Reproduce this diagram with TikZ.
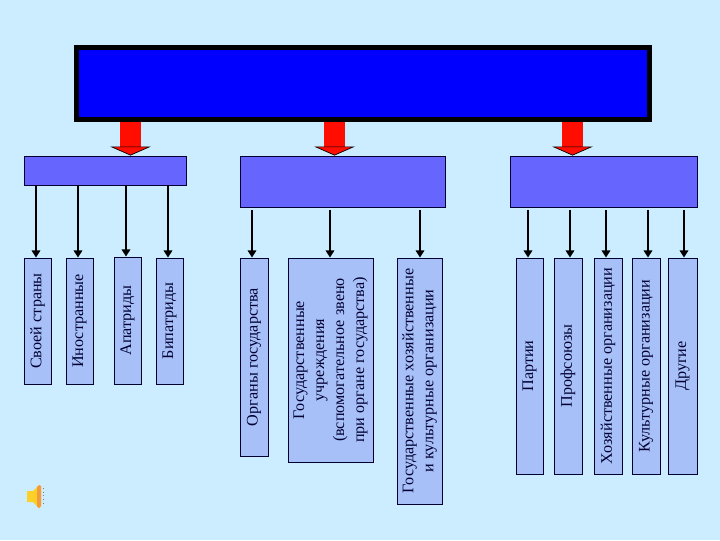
\documentclass[tikz,border=0pt]{standalone}
\usepackage{fontspec}
\setmainfont{Liberation Serif}
\usepackage{xcolor}
\usetikzlibrary{arrows.meta}
\definecolor{slideColor}{HTML}{CCECFF}
\definecolor{titleColor}{HTML}{0000FF}
\definecolor{groupColor}{HTML}{6666FF}
\definecolor{leafColor}{HTML}{A8C0F8}
\definecolor{inkColor}{HTML}{000033}
\definecolor{redColor}{HTML}{FF0D00}
\tikzset{
    groupbox/.style 2 args={draw=inkColor, fill=groupColor, line width=0.7pt, minimum width=#1*0.025cm, minimum height=#2*0.025cm},
    leafbox/.style 2 args={draw=inkColor, fill=leafColor, line width=0.7pt, rotate=90, align=center, text=inkColor, font=\fontsize{11.5}{14.2}\selectfont, inner sep=0pt, minimum width=#1*0.025cm, minimum height=#2*0.025cm},
    redarrow/.style={draw=redColor, line width=21*0.025cm, -{Triangle[color=black, fill=redColor, width=41*0.025cm, length=9*0.025cm, line width=0.5pt]}},
    leafarrow/.style={draw=black, line width=1.6pt, -{Triangle[width=6pt, length=5pt]}},
    gaparrow/.style={leafarrow, shorten <=2.1pt}
}

\begin{document}
\begin{tikzpicture}[x=0.025cm, y=-0.025cm]
    \fill[slideColor] (0,0) rectangle (720,540);
    \useasboundingbox (0,0) rectangle (720,540);
    \node[draw=black, fill=titleColor, line width=3.6pt, minimum width=573*0.025cm, minimum height=71.5*0.025cm] (title) at (363,83.5) {};

    \node[groupbox={162}{29}] (persons) at (105,170.5) {};
    \node[groupbox={205}{51}] (state) at (342.5,181.5) {};
    \node[groupbox={187}{51}] (public) at (603.5,181.5) {};

    \node[leafbox={126}{27}] (own) at (37.5,321) {Своей страны};
    \node[leafbox={126}{27}] (foreign) at (79.5,321) {Иностранные};
    \node[leafbox={127}{27}] (apatrid) at (127.5,320.5) {Апатриды};
    \node[leafbox={126}{27}] (bipatrid) at (169.5,321) {Бипатриды};

    \node[leafbox={198}{28}] (organs) at (254,357) {Органы государства};
    \node[leafbox={204}{85}] (institutions) at (330.5,360) {Государственные\\учреждения\\(вспомогательное звено\\при органе государства)};
    \node[leafbox={246}{45}] (economic) at (419.5,381) {Государственные хозяйственные\\и культурные организации};

    \node[leafbox={216}{27}] (parties) at (529.5,366) {Партии};
    \node[leafbox={216}{28}] (unions) at (568,366) {Профсоюзы};
    \node[leafbox={216}{28}] (business) at (608,366) {Хозяйственные организации};
    \node[leafbox={216}{28}] (culture) at (646,366) {Культурные организации};
    \node[leafbox={216}{29}] (others) at (682.5,366) {Другие};

    \draw[redarrow] (130.5,0 |- title.south) -- (130.5,0 |- persons.north);
    \draw[redarrow] (334.5,0 |- title.south) -- (334.5,0 |- state.north);
    \draw[redarrow] (572.5,0 |- title.south) -- (572.5,0 |- public.north);

    \draw[leafarrow] (36,0 |- persons.south) -- (36,0 |- own.east);
    \draw[leafarrow] (78,0 |- persons.south) -- (78,0 |- foreign.east);
    \draw[leafarrow] (126,0 |- persons.south) -- (126,0 |- apatrid.east);
    \draw[leafarrow] (168,0 |- persons.south) -- (168,0 |- bipatrid.east);

    \draw[gaparrow] (252,0 |- state.south) -- (252,0 |- organs.east);
    \draw[gaparrow] (330,0 |- state.south) -- (330,0 |- institutions.east);
    \draw[gaparrow] (420,0 |- state.south) -- (420,0 |- economic.east);

    \draw[gaparrow] (528,0 |- public.south) -- (528,0 |- parties.east);
    \draw[gaparrow] (570,0 |- public.south) -- (570,0 |- unions.east);
    \draw[gaparrow] (606,0 |- public.south) -- (606,0 |- business.east);
    \draw[gaparrow] (648,0 |- public.south) -- (648,0 |- culture.east);
    \draw[gaparrow] (684,0 |- public.south) -- (684,0 |- others.east);

    \fill[yellow!60!orange!85!white] (27,491) -- (33,491) -- (39,485) -- (41,486) -- (41,506) -- (39,508) -- (33,502) -- (27,502) -- cycle;
    \fill[orange!80!brown!80!white] (37,487) -- (39,485) -- (41,486) -- (41,506) -- (39,508) -- (37,506) -- cycle;
    \draw[gray, line width=0.6pt, dotted] (43.5,488) -- (43.5,505);
\end{tikzpicture}
\end{document}
